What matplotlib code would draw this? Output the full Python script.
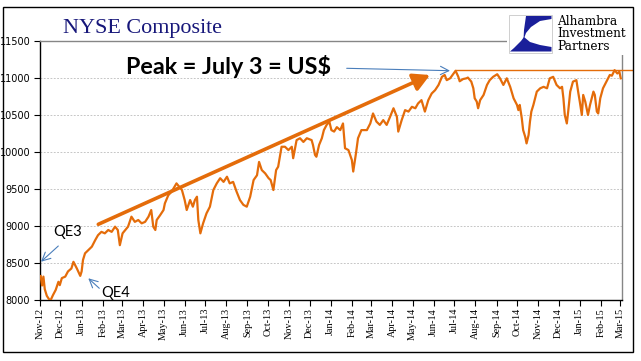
import matplotlib
matplotlib.use("Agg")
import matplotlib.pyplot as plt
import matplotlib.dates as mdates
from matplotlib.patches import Rectangle, Polygon
import pandas as pd
import numpy as np

# ---------------- data ----------------
dates = [
    "2012-11-02", "2012-11-04", "2012-11-06", "2012-11-08", "2012-11-11", "2012-11-16",
    "2012-11-20", "2012-11-24", "2012-11-28", "2012-11-30", "2012-12-03", "2012-12-08",
    "2012-12-12", "2012-12-17", "2012-12-20", "2012-12-25", "2012-12-30", "2013-01-01",
    "2013-01-03", "2013-01-06", "2013-01-11", "2013-01-16", "2013-01-21", "2013-01-25",
    "2013-01-30", "2013-02-04", "2013-02-09", "2013-02-14", "2013-02-19", "2013-02-23",
    "2013-02-26", "2013-03-02", "2013-03-06", "2013-03-10", "2013-03-15", "2013-03-20",
    "2013-03-25", "2013-03-30", "2013-04-04", "2013-04-09", "2013-04-13", "2013-04-16",
    "2013-04-19", "2013-04-21", "2013-04-26", "2013-05-01", "2013-05-03", "2013-05-08",
    "2013-05-13", "2013-05-20", "2013-05-28", "2013-06-01", "2013-06-04", "2013-06-09",
    "2013-06-13", "2013-06-16", "2013-06-19", "2013-06-21", "2013-06-24", "2013-06-28",
    "2013-07-03", "2013-07-08", "2013-07-13", "2013-07-18", "2013-07-23", "2013-07-28",
    "2013-08-02", "2013-08-06", "2013-08-11", "2013-08-16", "2013-08-21", "2013-08-26",
    "2013-08-31", "2013-09-05", "2013-09-10", "2013-09-15", "2013-09-18", "2013-09-22",
    "2013-09-27", "2013-10-02", "2013-10-05", "2013-10-09", "2013-10-13", "2013-10-16",
    "2013-10-21", "2013-10-26", "2013-10-31", "2013-11-05", "2013-11-07", "2013-11-12",
    "2013-11-17", "2013-11-22", "2013-11-27", "2013-12-04", "2013-12-06", "2013-12-09",
    "2013-12-11", "2013-12-15", "2013-12-19", "2013-12-22", "2013-12-26", "2013-12-30",
    "2014-01-02", "2014-01-06", "2014-01-10", "2014-01-15", "2014-01-19", "2014-01-22",
    "2014-01-27", "2014-02-01", "2014-02-03", "2014-02-07", "2014-02-10", "2014-02-15",
    "2014-02-23", "2014-02-28", "2014-03-04", "2014-03-09", "2014-03-14", "2014-03-19",
    "2014-03-24", "2014-03-29", "2014-04-03", "2014-04-08", "2014-04-10", "2014-04-15",
    "2014-04-20", "2014-04-25", "2014-04-30", "2014-05-05", "2014-05-09", "2014-05-14",
    "2014-05-19", "2014-05-24", "2014-05-29", "2014-06-03", "2014-06-08", "2014-06-13",
    "2014-06-17", "2014-06-20", "2014-06-25", "2014-06-30", "2014-07-03", "2014-07-07",
    "2014-07-09", "2014-07-14", "2014-07-19", "2014-07-21", "2014-07-26", "2014-07-29",
    "2014-07-31", "2014-08-03", "2014-08-05", "2014-08-08", "2014-08-13", "2014-08-18",
    "2014-08-22", "2014-08-27", "2014-09-02", "2014-09-06", "2014-09-11", "2014-09-16",
    "2014-09-21", "2014-09-26", "2014-10-01", "2014-10-03", "2014-10-05", "2014-10-08",
    "2014-10-10", "2014-10-13", "2014-10-15", "2014-10-18", "2014-10-20", "2014-10-22",
    "2014-10-25", "2014-10-30", "2014-11-04", "2014-11-09", "2014-11-14", "2014-11-18",
    "2014-11-23", "2014-11-28", "2014-12-03", "2014-12-06", "2014-12-08", "2014-12-10",
    "2014-12-13", "2014-12-15", "2014-12-18", "2014-12-22", "2014-12-27", "2014-12-30",
    "2015-01-01", "2015-01-04", "2015-01-06", "2015-01-09", "2015-01-11", "2015-01-13",
    "2015-01-16", "2015-01-21", "2015-01-23", "2015-01-26", "2015-01-28", "2015-01-31",
    "2015-02-04", "2015-02-09", "2015-02-14", "2015-02-17", "2015-02-21", "2015-02-25",
    "2015-02-28", "2015-03-02",
]
values = [
    8328, 8200, 8320, 8150, 8060, 7990,
    8070, 8140, 8250, 8205, 8300, 8320,
    8390, 8430, 8520, 8430, 8330, 8390,
    8545, 8635, 8680, 8725, 8815, 8880,
    8925, 8905, 8950, 8925, 8995, 8950,
    8745, 8905, 8950, 8995, 9130, 9060,
    9085, 9040, 9060, 9130, 9220, 8995,
    8950, 9085, 9150, 9220, 9310, 9420,
    9470, 9580, 9490, 9355, 9220, 9355,
    9265, 9355, 9400, 9085, 8905, 9040,
    9175, 9265, 9490, 9580, 9650, 9600,
    9670, 9580, 9600, 9470, 9355, 9290,
    9265, 9400, 9625, 9690, 9870, 9760,
    9715, 9650, 9625, 9490, 9760, 9805,
    10075, 10075, 10030, 10075, 9920, 10165,
    10190, 10140, 10190, 10165, 10100, 9965,
    9940, 10100, 10190, 10300, 10370, 10415,
    10300, 10280, 10340, 10300, 10390, 10055,
    10030, 9895, 9740, 9985, 10190, 10300,
    10300, 10390, 10525, 10415, 10370, 10435,
    10370, 10480, 10595, 10480, 10280, 10435,
    10570, 10550, 10615, 10595, 10660, 10705,
    10550, 10705, 10795, 10840, 10910, 11020,
    11045, 10975, 11000, 11065, 11102, 11020,
    10960, 10990, 11000, 11010, 10955, 10865,
    10730, 10685, 10595, 10705, 10775, 10910,
    10975, 11020, 11055, 11000, 10910, 11000,
    10885, 10730, 10640, 10570, 10640, 10460,
    10300, 10210, 10120, 10235, 10415, 10550,
    10640, 10820, 10865, 10885, 10865, 11000,
    11020, 10910, 10865, 10885, 10730, 10505,
    10390, 10550, 10820, 10955, 10975, 10795,
    10685, 10505, 10775, 10685, 10595, 10505,
    10640, 10820, 10775, 10550, 10525, 10730,
    10865, 10955, 11045, 11035, 11110, 11065,
    11090, 11000,
]
y_ticks = [8000, 8500, 9000, 9500, 10000, 10500, 11000, 11500]
x_start, x_end = "2012-11-01", "2015-03-03 10:00"
title = "NYSE Composite"
peak_label = "Peak = July 3 = US$"
peak_date = "2014-07-03"
logo_lines = ["Alhambra", "Investment", "Partners"]

# ---------------- style ----------------
W, H = 641, 361
ORANGE = "#E46C0A"
BLUE = "#4A7EBB"
NAVY = "#17177A"

fig = plt.figure(figsize=(W / 100, H / 100), dpi=100)
fig.patch.set_facecolor("white")

ax = fig.add_axes([40 / W, 1 - 300.3 / H, (621.7 - 40) / W, (300.3 - 41.3) / H])

x = pd.to_datetime(dates)
ax.plot(x, values, color=ORANGE, lw=1.6, solid_joinstyle="round", zorder=3)

ax.set_ylim(8000, 11500)
ax.set_xlim(pd.Timestamp(x_start), pd.Timestamp(x_end))
ax.set_yticks(y_ticks)
ax.set_yticklabels([str(v) for v in y_ticks], fontsize=7, family="DejaVu Sans")
ax.xaxis.set_major_locator(mdates.MonthLocator())
ax.xaxis.set_major_formatter(mdates.DateFormatter("%b-%y"))
for lab in ax.get_xticklabels():
    lab.set_rotation(90)
    lab.set_fontsize(7.3)
    lab.set_family("Liberation Serif")
    lab.set_va("top")
ax.tick_params(axis="x", length=4, width=0.8, direction="out", pad=1.5, color="black")
ax.tick_params(axis="y", length=4, width=0.8, direction="out", pad=3, color="black")

ax.yaxis.grid(True, color="#BDBDBD", lw=0.6, ls=(0, (2.2, 1.8)))
ax.set_axisbelow(True)
for s in ["left", "bottom"]:
    ax.spines[s].set_color("black")
    ax.spines[s].set_linewidth(1.0)
for s in ["top", "right"]:
    ax.spines[s].set_color("#868686")
    ax.spines[s].set_linewidth(1.0)

# peak horizontal line, drawn from the data maximum
peak_val = max(values)
ax.plot([pd.Timestamp(peak_date), pd.Timestamp("2015-03-19")], [peak_val, peak_val],
        color=ORANGE, lw=1.0, clip_on=False, zorder=3)

# ---------------- annotations (figure pixel positions) ----------------
def fp(px, py):
    return (px, H - py)

# trend arrow
ax.annotate("", xy=fp(430, 75), xytext=fp(98.3, 224.3),
            xycoords="figure pixels", textcoords="figure pixels",
            arrowprops=dict(arrowstyle="-|>,head_length=0.55,head_width=0.3",
                            mutation_scale=18, color=ORANGE, lw=2.6,
                            shrinkA=0, shrinkB=0), zorder=4)

# blue arrows
for (sx, sy), (ex, ey) in [((346.7, 68.3), (450, 70.7)),
                           ((58.3, 246), (41, 261.7)),
                           ((99.3, 288.3), (88.3, 278.3))]:
    ax.annotate("", xy=fp(ex, ey), xytext=fp(sx, sy),
                xycoords="figure pixels", textcoords="figure pixels",
                arrowprops=dict(arrowstyle="->,head_length=0.5,head_width=0.25",
                                mutation_scale=12, color=BLUE, lw=0.8,
                                shrinkA=0, shrinkB=0), zorder=4)

fig.text(126 / W, 1 - 74 / H, peak_label, fontsize=16.8, fontweight="bold",
         family="Lato", color="black", ha="left", va="baseline")
fig.text(68 / W, 1 - 232 / H, "QE3", fontsize=10.5, family="Lato",
         ha="center", va="center")
fig.text(115.5 / W, 1 - 293 / H, "QE4", fontsize=10.5, family="Lato",
         ha="center", va="center")

# title
fig.text(63 / W, 1 - 33.3 / H, title, fontsize=15.9, family="Liberation Serif",
         color=NAVY, ha="left", va="baseline")

# logo area (white background covering the plot border)
fig.patches.append(Rectangle((507 / W, 1 - 55 / H), (634 - 507) / W, (55 - 8) / H,
                             transform=fig.transFigure, facecolor="white",
                             edgecolor="none", zorder=5))
fig.patches.append(Rectangle((509 / W, 1 - 52.7 / H), 43.3 / W, 37.7 / H,
                             transform=fig.transFigure, facecolor="white",
                             edgecolor="#C8C8C8", lw=0.6, zorder=6))
top_shape = [(526, 16), (551.5, 16), (551.5, 19), (540, 21), (531, 27),
             (526, 33), (523.5, 40), (524, 30)]
bot_shape = [(510, 51.5), (551.5, 51.5), (551.5, 47), (540, 45), (530, 42),
             (524, 37), (521, 41), (514, 48)]
for shp in (top_shape, bot_shape):
    pts = [(px / W, 1 - py / H) for px, py in shp]
    fig.patches.append(Polygon(pts, closed=True, transform=fig.transFigure,
                               facecolor="#1A1F9A", edgecolor="none", zorder=7))
fig.text(557 / W, 1 - 49.5 / H, "\n".join(logo_lines), fontsize=8.7,
         family="DejaVu Serif", color="black", ha="left", va="baseline",
         linespacing=0.92, zorder=8)

# outer frame
fig.patches.append(Rectangle((3.3 / W, 1 - 352.3 / H), 630 / W, 345.6 / H,
                             transform=fig.transFigure, facecolor="none",
                             edgecolor="black", lw=1.0, zorder=9))

fig.savefig("out.png", dpi=100)
